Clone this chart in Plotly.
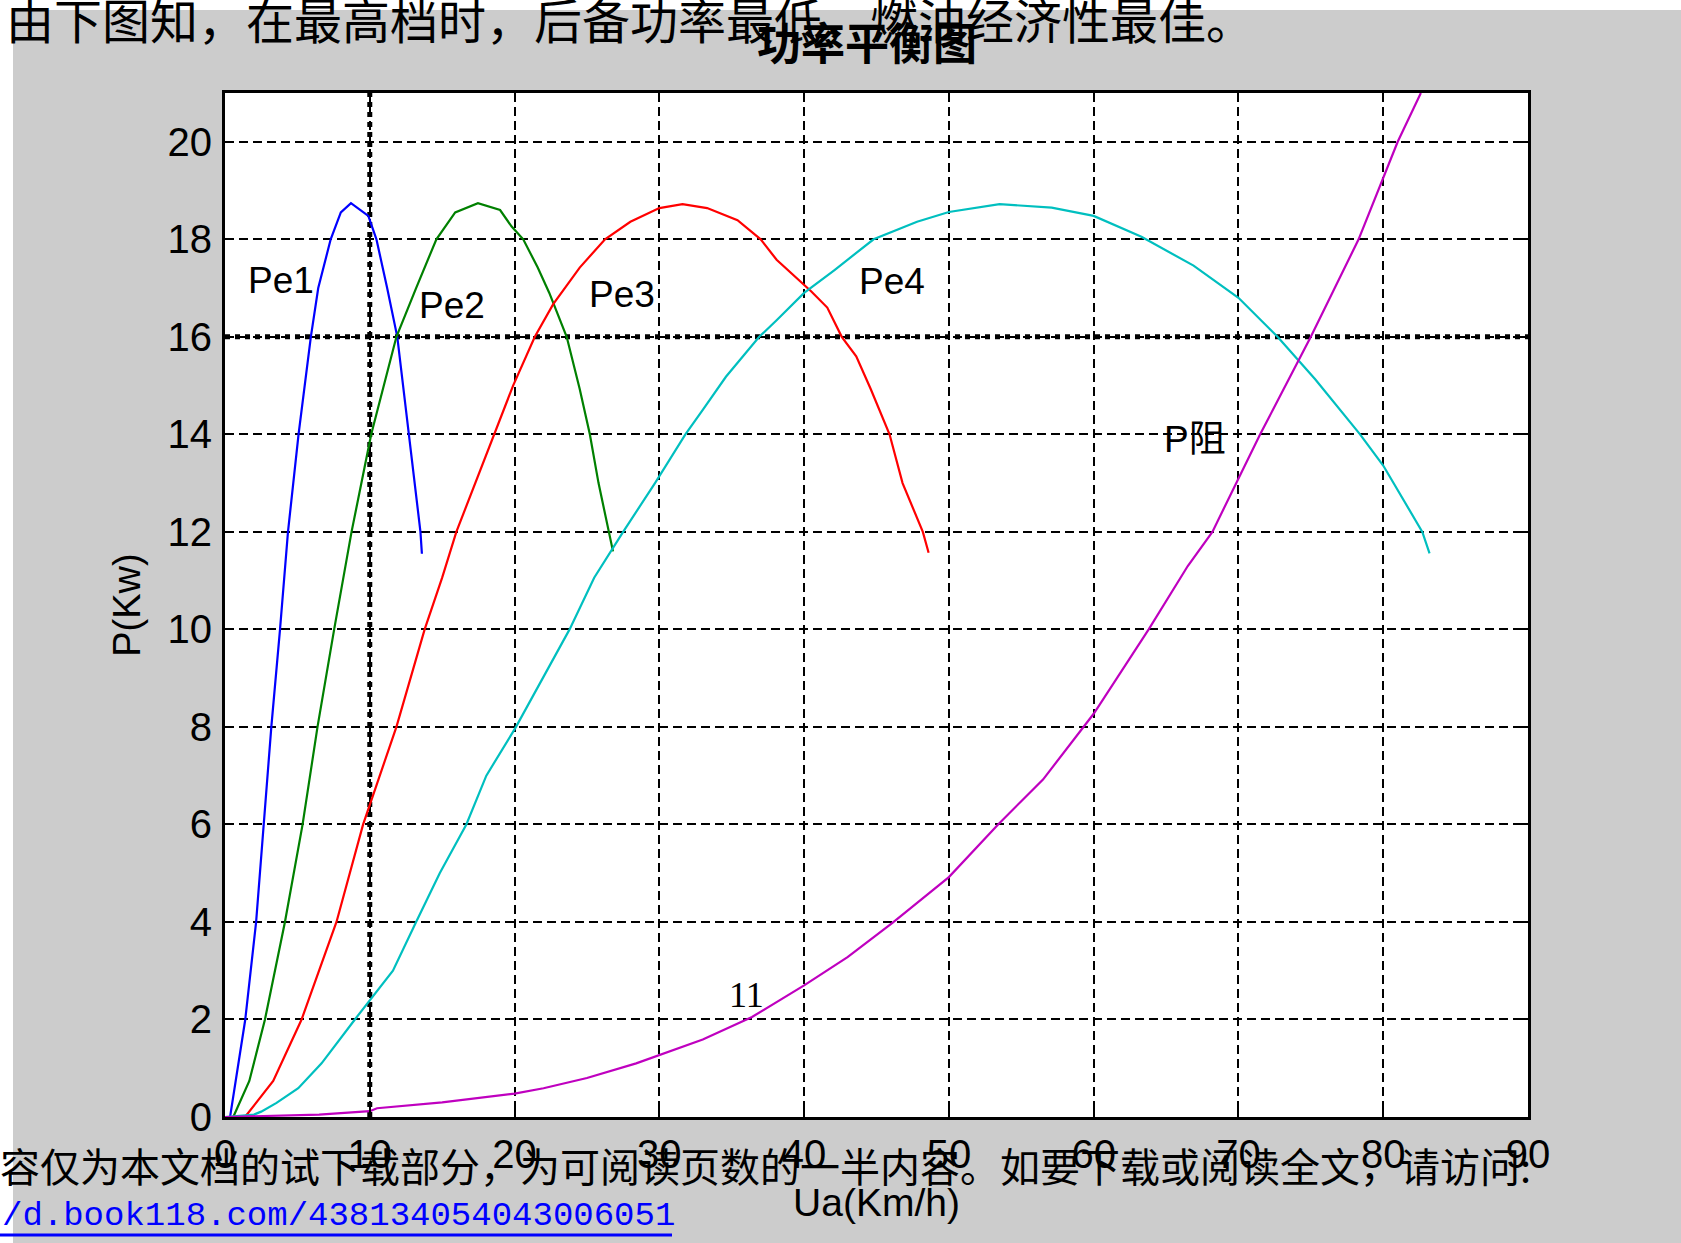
import plotly.graph_objects as go

# ---------------- data ----------------
pe1_x = [0.35, 0.9, 1.4, 2.15, 2.68, 3.2, 3.8, 4.35, 5.08, 5.93, 6.44, 7.3, 8.0, 8.7, 9.9, 10.46, 11.2, 11.9, 12.7, 13.5, 13.6]
pe1_y = [0.0, 1.0, 2.0, 4.0, 6.0, 8.0, 10.0, 12.0, 14.0, 16.0, 17.0, 18.0, 18.55, 18.74, 18.48, 18.0, 17.0, 16.0, 14.0, 12.0, 11.55]

pe2_x = [0.57, 1.68, 2.76, 4.14, 5.36, 6.39, 7.54, 8.74, 10.1, 11.84, 13.2, 14.6, 15.9, 17.47, 19.0, 19.8, 20.6, 21.6, 22.4, 23.6, 24.5, 25.2, 25.8, 26.5, 26.8]
pe2_y = [0.0, 0.74, 2.0, 4.0, 6.0, 8.0, 10.0, 12.0, 14.0, 16.0, 17.0, 18.0, 18.55, 18.74, 18.6, 18.26, 18.0, 17.42, 16.9, 16.0, 14.93, 14.0, 13.0, 12.0, 11.6]

pe3_x = [1.38, 3.33, 5.29, 7.7, 9.54, 11.84, 13.79, 15.0, 15.98, 18.62, 19.9, 21.4, 22.67, 24.5, 26.25, 28.0, 30.0, 31.6, 33.3, 35.4, 37.0, 38.1, 39.6, 40.5, 41.6, 42.6, 43.6, 44.6, 45.9, 46.8, 48.2, 48.6]
pe3_y = [0.0, 0.74, 2.0, 4.0, 6.0, 8.0, 10.0, 11.06, 12.0, 14.0, 15.0, 16.0, 16.67, 17.42, 18.0, 18.36, 18.64, 18.72, 18.64, 18.39, 18.0, 17.58, 17.18, 16.93, 16.6, 16.0, 15.6, 14.93, 14.0, 13.0, 12.0, 11.57]

pe4_x = [0.0, 2.0, 2.5, 3.56, 5.06, 6.67, 8.97, 10.0, 11.6, 13.2, 14.83, 16.67, 18.05, 20.1, 23.8, 25.5, 27.5, 29.7, 31.8, 33.0, 34.6, 36.9, 38.1, 40.0, 42.1, 44.8, 47.8, 50.0, 53.5, 57.1, 60.0, 63.3, 66.9, 70.0, 72.7, 75.3, 78.4, 80.0, 82.7, 83.2]
pe4_y = [0.0, 0.05, 0.11, 0.29, 0.59, 1.1, 2.0, 2.4, 3.0, 4.0, 5.0, 6.0, 7.0, 8.0, 10.0, 11.06, 12.0, 13.0, 14.0, 14.5, 15.18, 16.0, 16.34, 16.9, 17.37, 18.0, 18.36, 18.56, 18.72, 18.65, 18.48, 18.05, 17.46, 16.8, 16.0, 15.13, 14.0, 13.36, 12.0, 11.56]

pz_x = [0.0, 6.5, 10.0, 10.5, 15.0, 20.0, 22.0, 25.0, 28.4, 30.0, 33.0, 36.4, 40.0, 43.0, 46.1, 50.0, 53.4, 56.5, 60.0, 63.8, 66.5, 68.2, 71.5, 75.0, 78.3, 81.0, 82.6]
pz_y = [0.0, 0.05, 0.12, 0.18, 0.3, 0.48, 0.59, 0.8, 1.1, 1.27, 1.59, 2.05, 2.7, 3.28, 3.98, 4.92, 6.0, 6.92, 8.27, 10.0, 11.3, 12.0, 14.0, 16.0, 18.0, 20.0, 21.0]

x_ticks = [0, 10, 20, 30, 40, 50, 60, 70, 80, 90]
y_ticks = [0, 2, 4, 6, 8, 10, 12, 14, 16, 18, 20]

series_names = ["Pe1", "Pe2", "Pe3", "Pe4", "P阻"]

title_text = "功率平衡图"
x_title = "Ua(Km/h)"
y_title = "P(Kw)"
top_text = "由下图知，在最高档时，后备功率最低，燃油经济性最佳。"
bottom_text = "容仅为本文档的试下载部分，为可阅读页数的一半内容。如要下载或阅读全文，请访问:"
link_text = "/d.book118.com/438134054043006051"

# ---------------- geometry / style ----------------
W, H = 1681, 1243
ML, MR, MT, MB = 225, 153, 93, 126
PW = W - ML - MR
PH = H - MT - MB


def px_x(px):
    return (px - ML) / PW


def px_y(py):
    return (H - MB - py) / PH


SANS = "Liberation Sans, Arial, sans-serif"
CJK = "Noto Sans CJK SC, sans-serif"

colors = ["#0000ff", "#008000", "#ff0000", "#00bfbf", "#bf00bf"]
xs = [pe1_x, pe2_x, pe3_x, pe4_x, pz_x]
ys = [pe1_y, pe2_y, pe3_y, pe4_y, pz_y]

fig = go.Figure()
for name, x, y, c in zip(series_names, xs, ys, colors):
    fig.add_trace(go.Scatter(x=x, y=y, mode="lines", name=name,
                             line=dict(color=c, width=2.2), showlegend=False,
                             hoverinfo="skip"))

axis_common = dict(
    showgrid=True, gridcolor="#000000", gridwidth=2, griddash="9px,5px",
    showline=True, linecolor="#000000", linewidth=3, mirror="ticks",
    ticks="inside", ticklen=8, tickwidth=2, tickcolor="#000000",
    zeroline=False, tickfont=dict(family=SANS, size=40, color="#000000"),
)

fig.update_layout(
    width=W, height=H, autosize=False,
    margin=dict(l=ML, r=MR, t=MT, b=MB, pad=0),
    paper_bgcolor="#cccccc", plot_bgcolor="#ffffff",
    title=dict(text="<b>" + title_text + "</b>", x=px_x(867), xref="paper",
               y=1 - 45 / H, yref="container", xanchor="center", yanchor="middle",
               font=dict(family=CJK, size=44, color="#000000")),
    xaxis=dict(range=[0, 90], tickvals=x_ticks, ticktext=[str(v) for v in x_ticks],
               ticklabelstandoff=0,
               title=dict(text=x_title, standoff=14,
                          font=dict(family=SANS, size=39, color="#000000")),
               **axis_common),
    yaxis=dict(range=[0, 21], tickvals=y_ticks, ticktext=[str(v) for v in y_ticks],
               ticklabelstandoff=2,
               title=dict(text=y_title, standoff=16,
                          font=dict(family=SANS, size=38, color="#000000")),
               **axis_common),
)

# emphasised (thick dotted) grid lines
fig.add_shape(type="line", xref="x", yref="y domain", x0=x_ticks[1], x1=x_ticks[1], y0=0, y1=1,
              line=dict(color="#000000", width=5, dash="5px,5px"), layer="below")
fig.add_shape(type="line", xref="x domain", yref="y", x0=0, x1=1, y0=y_ticks[8], y1=y_ticks[8],
              line=dict(color="#000000", width=5, dash="5px,5px"), layer="below")

# white page strips at top and left
fig.add_shape(type="rect", xref="paper", yref="paper", x0=px_x(0), x1=px_x(W), y0=px_y(10), y1=px_y(0),
              fillcolor="#ffffff", line=dict(width=0), layer="above")
fig.add_shape(type="rect", xref="paper", yref="paper", x0=px_x(0), x1=px_x(13), y0=px_y(H), y1=px_y(0),
              fillcolor="#ffffff", line=dict(width=0), layer="above")

# curve labels
label_pos = {"Pe1": (3.87, 17.15), "Pe2": (15.7, 16.64), "Pe3": (27.4, 16.86),
             "Pe4": (46.06, 17.13), "P阻": (67.0, 13.9)}
for name in series_names:
    lx, ly = label_pos[name]
    fig.add_annotation(x=lx, y=ly, xref="x", yref="y", text=name, showarrow=False,
                       xanchor="center", yanchor="middle",
                       font=dict(family="Liberation Sans, " + CJK, size=37, color="#000000"))
fig.add_annotation(x=36.05, y=2.5, xref="x", yref="y", text="11", showarrow=False,
                   xanchor="center", yanchor="middle",
                   font=dict(family="Liberation Serif, serif", size=36, color="#000000"))

# document page texts
fig.add_annotation(x=px_x(4), y=px_y(18), xref="paper", yref="paper", text=top_text,
                   showarrow=False, xanchor="left", yanchor="middle",
                   font=dict(family=CJK, size=48, color="#000000"))
fig.add_annotation(x=px_x(-2), y=px_y(1165), xref="paper", yref="paper", text=bottom_text,
                   showarrow=False, xanchor="left", yanchor="middle",
                   font=dict(family=CJK, size=40, color="#000000"))
fig.add_annotation(x=px_x(0), y=px_y(1216), xref="paper", yref="paper", text=link_text,
                   showarrow=False, xanchor="left", yanchor="middle",
                   font=dict(family="Liberation Mono, monospace", size=34, color="#0000ff"))
fig.add_shape(type="line", xref="paper", yref="paper", x0=px_x(0), x1=px_x(672),
              y0=px_y(1235), y1=px_y(1235), line=dict(color="#0000ff", width=3), layer="above")

fig.write_html("out.html", config={"displayModeBar": False},
               post_script="document.body.style.margin='0';")
